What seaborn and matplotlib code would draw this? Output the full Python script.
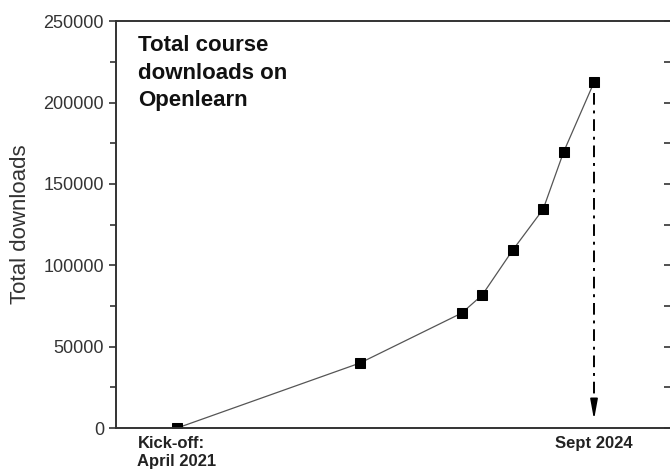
import numpy as np
import pandas as pd
import matplotlib
matplotlib.use("Agg")
import matplotlib.pyplot as plt
import seaborn as sns
from matplotlib.ticker import MultipleLocator

# months since the April 2021 kick-off
months = [0, 18, 28, 30, 33, 36, 38, 41]
downloads = [0, 40000, 70700, 81700, 109300, 134500, 169500, 212500]

tick_pos = [0, 41]
tick_labels = ["Kick-off:\nApril 2021", "Sept 2024"]

df = pd.DataFrame({"month": months, "downloads": downloads})

sns.set_style("ticks")
plt.rcParams["font.family"] = ["Liberation Sans", "DejaVu Sans"]

fig = plt.figure(figsize=(6.7, 4.72), dpi=100)
ax = fig.add_axes([0.173, 0.093, 0.829, 0.862])

sns.lineplot(data=df, x="month", y="downloads", ax=ax, color="#555555", lw=0.9,
             marker="s", markersize=6.5, markerfacecolor="black", markeredgecolor="black")

# dash-dot arrow down to Sept 2024
ax.plot([41, 41], [206000, 12000], color="black", lw=1.4, ls=(0, (6, 3, 1.5, 3)))
ax.annotate("", xy=(41, 3500), xytext=(41, 16000),
            arrowprops=dict(arrowstyle="-|>,head_length=1.2,head_width=0.22",
                            color="black", lw=1.2, mutation_scale=10))

ax.set_xlim(-6, 48.6)
ax.set_ylim(0, 250000)
ax.yaxis.set_major_locator(MultipleLocator(50000))
ax.yaxis.set_minor_locator(MultipleLocator(25000))
ax.set_xticks(tick_pos)
ax.set_xticklabels(tick_labels, fontsize=12, fontweight="bold", multialignment="left")
ax.tick_params(axis="x", length=0, pad=6)
ax.tick_params(axis="y", which="both", direction="out", length=5, width=1.2, labelsize=13,
               colors="#333333", labelcolor="#333333")
ax.tick_params(axis="y", which="minor", length=4)
# inward ticks on the right side
ax_r = ax.secondary_yaxis("right")
ax_r.yaxis.set_major_locator(MultipleLocator(50000))
ax_r.yaxis.set_minor_locator(MultipleLocator(25000))
ax_r.tick_params(axis="y", which="both", direction="in", length=5, width=1.2,
                 colors="#333333", labelright=False)
ax_r.spines["right"].set_visible(False)
for t in ax.get_xticklabels():
    t.set_color("#222222")

ax.set_xlabel("")
ax.set_ylabel("Total downloads", fontsize=16, color="#333333", labelpad=9)

for side in ["left", "right", "top", "bottom"]:
    ax.spines[side].set_visible(True)
    ax.spines[side].set_linewidth(1.4)
    ax.spines[side].set_color("#333333")

ax.text(0.04, 0.965, "Total course\ndownloads on\nOpenlearn", transform=ax.transAxes,
        ha="left", va="top", fontsize=16, fontweight="bold", color="#111111", linespacing=1.4)

fig.savefig("out.png", dpi=100)
